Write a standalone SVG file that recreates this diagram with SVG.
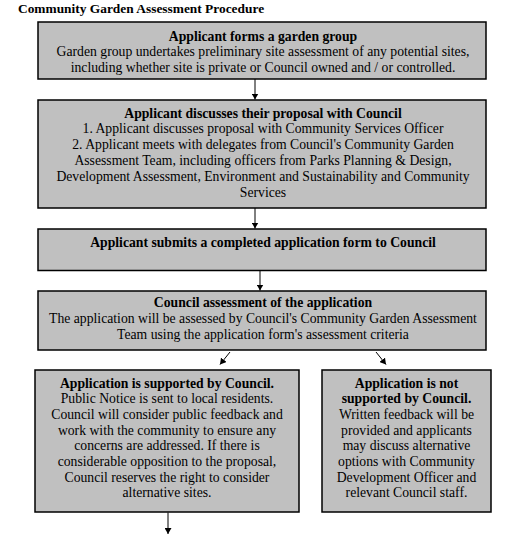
<svg xmlns="http://www.w3.org/2000/svg" width="530" height="546" viewBox="0 0 530 546">
<defs>
<marker id="ah" markerWidth="6" markerHeight="7" refX="6" refY="3.5" orient="auto" markerUnits="userSpaceOnUse">
<path d="M0,0 L6,3.5 L0,7 z" fill="#000"/>
</marker>
<style>
.box{fill:#c0c0c0;stroke:#000;stroke-width:1.5}
text{font-family:"Liberation Serif","Times New Roman",serif;font-size:13.7px;fill:#000;text-anchor:middle}
.b{font-weight:bold}
.conn{stroke:#000;stroke-width:1;fill:none;marker-end:url(#ah)}
</style>
</defs>
<rect width="530" height="546" fill="#fff"/>
<text x="18" y="13" class="b" style="text-anchor:start;font-size:13.4px">Community Garden Assessment Procedure</text>

<g id="connectors">
<line class="conn" x1="255" y1="79" x2="255" y2="99.5"/>
<line class="conn" x1="255" y1="208" x2="255" y2="228.5"/>
<line class="conn" x1="260" y1="270.5" x2="260" y2="290.5"/>
<line class="conn" x1="230" y1="352" x2="220" y2="364.5"/>
<line class="conn" x1="376" y1="352" x2="386" y2="364.5"/>
<line class="conn" x1="168" y1="512.5" x2="168" y2="534"/>
</g>

<g id="n1">
<rect class="box" x="38" y="22" width="448" height="57"/>
<text x="263" y="40.5" class="b">Applicant forms a garden group</text>
<text x="263" y="56">Garden group undertakes preliminary site assessment of any potential sites,</text>
<text x="263" y="72">including whether site is private or Council owned and / or controlled.</text>
</g>

<g id="n2">
<rect class="box" x="38" y="100" width="448" height="108"/>
<text x="263" y="117.5" class="b">Applicant discusses their proposal with Council</text>
<text x="263" y="133.3">1. Applicant discusses proposal with Community Services Officer</text>
<text x="263" y="149.1">2. Applicant meets with delegates from Council's Community Garden</text>
<text x="263" y="164.9">Assessment Team, including officers from Parks Planning &amp; Design,</text>
<text x="263" y="180.7">Development Assessment, Environment and Sustainability and Community</text>
<text x="263" y="196.5">Services</text>
</g>

<g id="n3">
<rect class="box" x="38" y="229" width="448" height="41.5"/>
<text x="263" y="246.5" class="b">Applicant submits a completed application form to Council</text>
</g>

<g id="n4">
<rect class="box" x="38" y="291" width="448" height="59"/>
<text x="263" y="307" class="b">Council assessment of the application</text>
<text x="263" y="322.8">The application will be assessed by Council's Community Garden Assessment</text>
<text x="263" y="338.6">Team using the application form's assessment criteria</text>
</g>

<g id="n5">
<rect class="box" x="35" y="370" width="264" height="142"/>
<text x="167" y="387.5" class="b">Application is supported by Council.</text>
<text x="167" y="403.2">Public Notice is sent to local residents.</text>
<text x="167" y="418.9">Council will consider public feedback and</text>
<text x="167" y="434.6">work with the community to ensure any</text>
<text x="167" y="450.3">concerns are addressed. If there is</text>
<text x="167" y="466">considerable opposition to the proposal,</text>
<text x="167" y="481.7">Council reserves the right to consider</text>
<text x="167" y="497.4">alternative sites.</text>
</g>

<g id="n6">
<rect class="box" x="322" y="370" width="169" height="142"/>
<text x="406.5" y="387.5" class="b">Application is not</text>
<text x="406.5" y="403.2" class="b">supported by Council.</text>
<text x="406.5" y="418.9">Written feedback will be</text>
<text x="406.5" y="434.6">provided and applicants</text>
<text x="406.5" y="450.3">may discuss alternative</text>
<text x="406.5" y="466">options with Community</text>
<text x="406.5" y="481.7">Development Officer and</text>
<text x="406.5" y="497.4">relevant Council staff.</text>
</g>
</svg>
